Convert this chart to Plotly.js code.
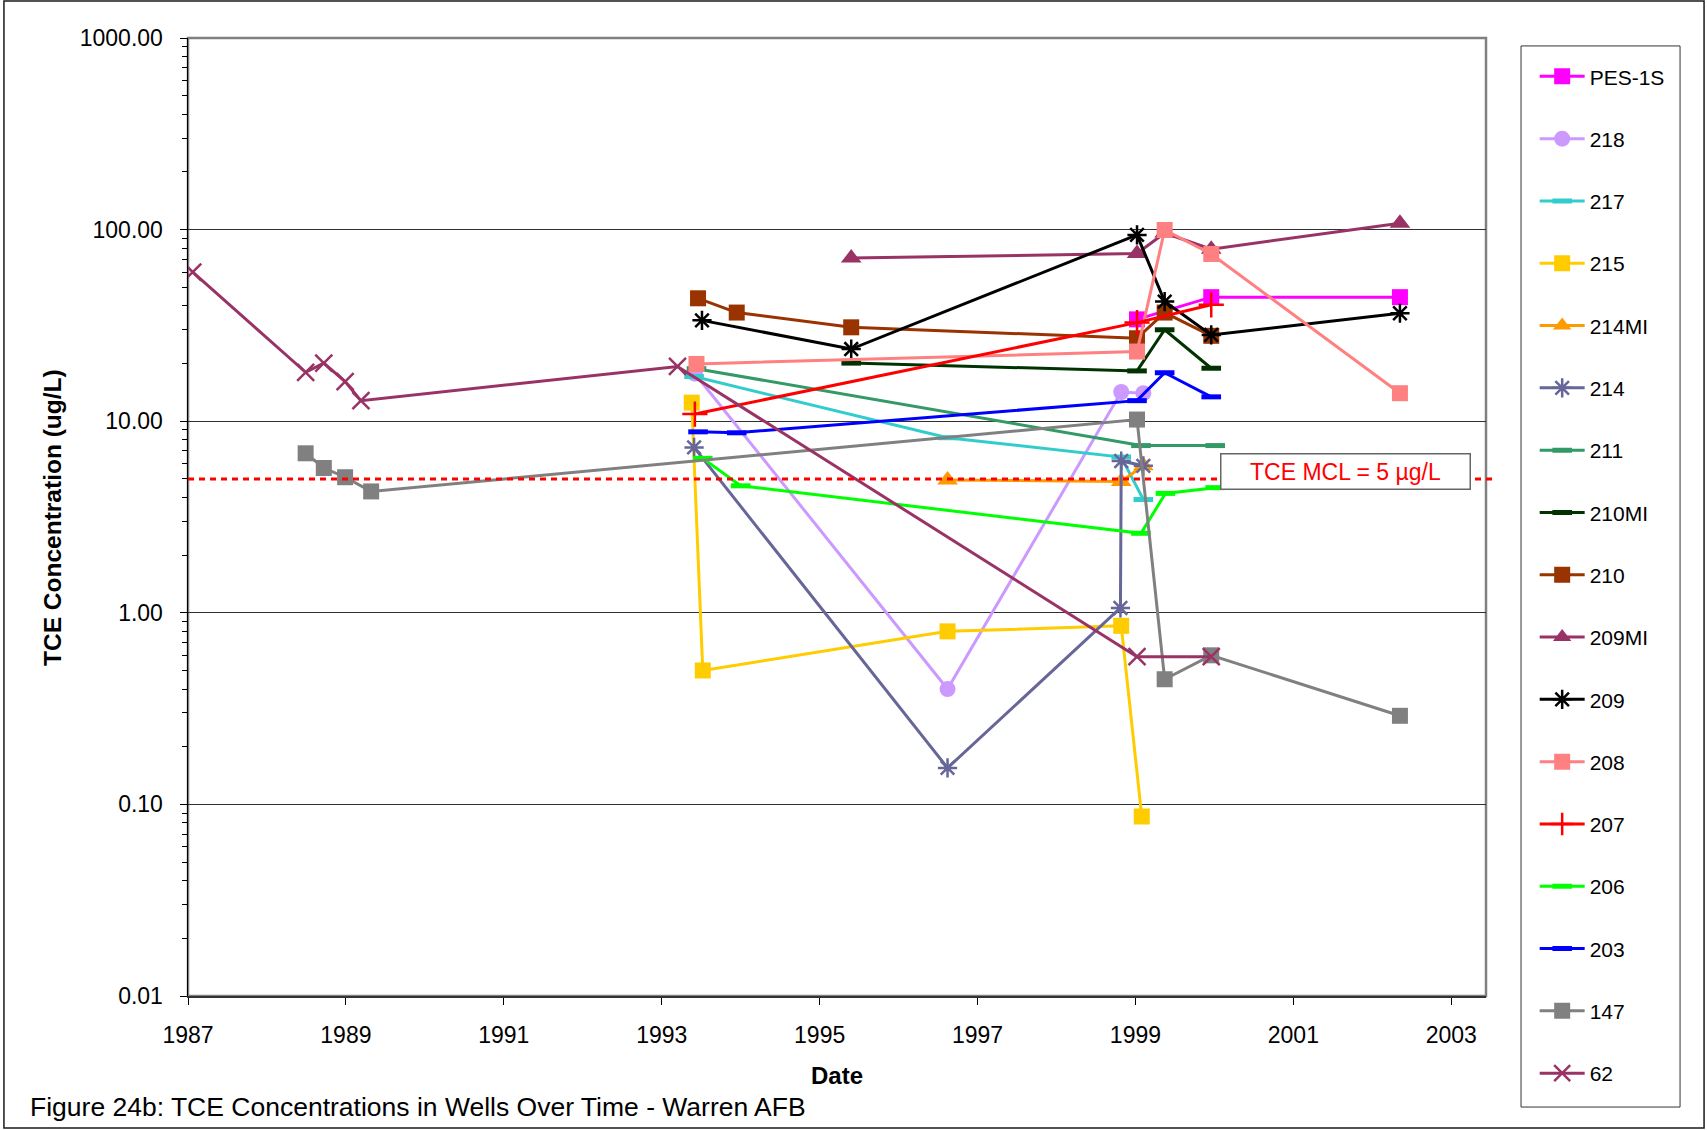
<!DOCTYPE html>
<html>
<head>
<meta charset="utf-8">
<script src="https://cdn.plot.ly/plotly-3.0.1.min.js"></script>
<style>
  html, body { margin: 0; padding: 0; background: #ffffff; }
  #chart { width: 1707px; height: 1130px; }
</style>
</head>
<body>
<div id="chart"></div>
<script>
// ---- Data (decimal years, TCE concentration in ug/L) ----
const seriesNames = ["PES-1S", "218", "217", "215", "214MI", "214", "211", "210MI", "210", "209MI", "209", "208", "207", "206", "203", "147", "62"];

const pes1sX = [1999.02, 1999.96, 2002.35];
const pes1sY = [34, 44.4, 44.4];

const w218X = [1993.42, 1996.62, 1998.82, 1999.10];
const w218Y = [17.7, 0.40, 14.2, 14.0];

const w217X = [1993.41, 1996.62, 1998.82, 1999.10];
const w217Y = [17.1, 8.2, 6.5, 3.9];

const w215X = [1993.38, 1993.52, 1996.62, 1998.82, 1999.08];
const w215Y = [12.5, 0.50, 0.80, 0.855, 0.0865];

const w214miX = [1996.62, 1998.82, 1999.10];
const w214miY = [4.94, 4.85, 5.85];

const w214X = [1993.41, 1996.62, 1998.81, 1998.82, 1999.10];
const w214Y = [7.3, 0.155, 1.06, 6.2, 5.85];

const w211X = [1993.44, 1999.07, 2000.01];
const w211Y = [18.8, 7.46, 7.46];

const w210miX = [1995.40, 1999.02, 1999.37, 1999.96];
const w210miY = [20.1, 18.3, 30.0, 18.9];

const w210X = [1993.46, 1993.95, 1995.40, 1999.02, 1999.37, 1999.96];
const w210Y = [43.8, 36.9, 30.9, 27.1, 36.9, 27.9];

const w209miX = [1995.40, 1999.02, 1999.37, 1999.96, 2002.35];
const w209miY = [71, 75, 96, 79, 108];

const w209X = [1993.51, 1995.40, 1999.02, 1999.37, 1999.96, 2002.35];
const w209Y = [33.6, 23.8, 93.8, 42.1, 28.2, 36.6];

const w208X = [1993.44, 1999.02, 1999.37, 1999.96, 2002.35];
const w208Y = [19.9, 23.1, 99.5, 74.6, 14.0];

const w207X = [1993.42, 1999.02, 1999.96];
const w207Y = [10.9, 32.7, 40.5];

const w206X = [1993.52, 1994.00, 1999.07, 1999.38, 2000.01];
const w206Y = [6.4, 4.6, 2.6, 4.2, 4.5];

const w203X = [1993.46, 1993.95, 1999.02, 1999.37, 1999.96];
const w203Y = [8.8, 8.7, 12.8, 17.9, 13.4];

const w147X = [1988.49, 1988.72, 1988.99, 1989.32, 1999.02, 1999.37, 1999.96, 2002.35];
const w147Y = [6.8, 5.7, 5.1, 4.3, 10.2, 0.45, 0.60, 0.29];

const w62X = [1987.06, 1988.49, 1988.72, 1988.99, 1989.19, 1993.20, 1999.02, 1999.96];
const w62Y = [60, 18, 20.1, 16.1, 12.8, 19.3, 0.59, 0.59];

const mclValue = 5;
const mclLabel = "TCE MCL = 5 µg/L";
const yTickVals = [0.01, 0.1, 1, 10, 100, 1000];
const yTickText = ["0.01", "0.10", "1.00", "10.00", "100.00", "1000.00"];
const xTickVals = [1987, 1989, 1991, 1993, 1995, 1997, 1999, 2001, 2003];
const xMinorTickVals = [1987, 1988, 1989, 1990, 1991, 1992, 1993, 1994, 1995, 1996, 1997, 1998, 1999, 2000, 2001, 2002, 2003];

// ---- Styles ----
const xs = [pes1sX, w218X, w217X, w215X, w214miX, w214X, w211X, w210miX, w210X, w209miX, w209X, w208X, w207X, w206X, w203X, w147X, w62X];
const ys = [pes1sY, w218Y, w217Y, w215Y, w214miY, w214Y, w211Y, w210miY, w210Y, w209miY, w209Y, w208Y, w207Y, w206Y, w203Y, w147Y, w62Y];
const colors = ["#FF00FF", "#CC99FF", "#33CCCC", "#FFCC00", "#FF9900", "#666699", "#339966", "#003300", "#993300", "#993366", "#000000", "#FF8080", "#FF0000", "#00FF00", "#0000FF", "#808080", "#993366"];
const symbols = ["square", "circle", "line-ew", "square", "triangle-up", "asterisk-open", "line-ew", "line-ew", "square", "triangle-up", "asterisk-open", "square", "cross-thin-open", "line-ew", "line-ew", "square", "x-thin-open"];

function markerFor(i) {
  const s = symbols[i];
  const c = colors[i];
  if (s === "line-ew") return { symbol: s, size: 14, color: c, line: { color: c, width: 5 } };
  if (s === "asterisk-open") return { symbol: s, size: 16, color: c, line: { color: c, width: 2.5 } };
  if (s === "cross-thin-open") return { symbol: s, size: 18, color: c, line: { color: c, width: 2.5 } };
  if (s === "x-thin-open") return { symbol: s, size: 17, color: c, line: { color: c, width: 2.5 } };
  if (s === "triangle-up") return { symbol: s, size: 18, color: c, line: { width: 0 } };
  if (s === "circle") return { symbol: s, size: 16, color: c, line: { width: 0 } };
  return { symbol: s, size: 16, color: c, line: { width: 0 } };
}

const traces = seriesNames.map((name, i) => ({
  type: "scatter",
  mode: "lines+markers",
  name: name,
  legendgroup: "g" + i,
  x: xs[i],
  y: ys[i],
  line: { color: colors[i], width: 3 },
  marker: markerFor(i),
  cliponaxis: true
}));

const FONT = "Liberation Sans, Arial, sans-serif";

const layout = {
  width: 1707,
  height: 1130,
  margin: { l: 188, r: 221, t: 38, b: 134, pad: 0 },
  paper_bgcolor: "#ffffff",
  plot_bgcolor: "#ffffff",
  font: { family: FONT, color: "#000000", size: 23 },
  showlegend: true,
  legend: {
    x: 1.0375, xanchor: "left",
    y: 0.981, yanchor: "top",
    bgcolor: "rgba(0,0,0,0)",
    borderwidth: 0,
    font: { family: FONT, size: 21, color: "#000000" },
    traceorder: "grouped",
    tracegroupgap: 32,
    itemwidth: 45,
    maxheight: 1100
  },
  xaxis: {
    type: "linear",
    range: [1987, 2003.44],
    tickmode: "array",
    tickvals: xTickVals,
    ticktext: xTickVals.map(String),
    ticks: "outside",
    ticklen: 7,
    tickwidth: 1,
    tickcolor: "#000000",
    showgrid: false,
    zeroline: false,
    showline: true,
    linecolor: "#333333",
    linewidth: 2,
    tickfont: { family: FONT, size: 23, color: "#000000" },
    ticklabelstandoff: 10,
    fixedrange: true
  },
  xaxis2: {
    overlaying: "x",
    anchor: "y",
    side: "bottom",
    range: [1987, 2003.44],
    tickmode: "array",
    tickvals: xMinorTickVals,
    ticks: "inside",
    ticklen: 7,
    tickwidth: 1,
    tickcolor: "#000000",
    showticklabels: false,
    showgrid: false,
    zeroline: false,
    showline: false
  },
  yaxis: {
    type: "log",
    range: [-2, 3],
    tickmode: "array",
    tickvals: yTickVals,
    ticktext: yTickText,
    ticks: "outside",
    ticklen: 7,
    tickwidth: 1,
    tickcolor: "#000000",
    minor: { ticks: "outside", ticklen: 5, tickcolor: "#000000", dtick: "D1", showgrid: false },
    showgrid: true,
    gridcolor: "#303030",
    gridwidth: 1,
    zeroline: false,
    showline: true,
    linecolor: "#000000",
    linewidth: 1.5,
    tickfont: { family: FONT, size: 23, color: "#000000" },
    ticklabelstandoff: 12,
    fixedrange: true
  },
  shapes: [
    // outer chart frame
    { type: "rect", xref: "paper", yref: "paper", x0: -0.1418, x1: 1.1680, y0: -0.1378, y1: 1.0386,
      line: { color: "#1a1a1a", width: 1.5 }, fillcolor: "rgba(0,0,0,0)", layer: "below" },
    // plot area frame
    { type: "rect", xref: "paper", yref: "paper", x0: 0, x1: 1, y0: 0, y1: 1,
      line: { color: "#808080", width: 2.5 }, fillcolor: "rgba(0,0,0,0)", layer: "below" },
    // legend box
    { type: "rect", xref: "paper", yref: "paper", x0: 1.0270, x1: 1.1495, y0: -0.1159, y1: 0.9917,
      line: { color: "#333333", width: 1 }, fillcolor: "rgba(0,0,0,0)", layer: "below" },
    // MCL line
    { type: "line", xref: "paper", yref: "y", x0: 0, x1: 1.0069, y0: mclValue, y1: mclValue,
      line: { color: "#FF0000", width: 3, dash: "6px,5px" }, layer: "above" }
  ],
  annotations: [
    { text: mclLabel, xref: "paper", yref: "paper", x: 0.8914, y: 0.547, xanchor: "center", yanchor: "middle",
      showarrow: false, font: { family: FONT, size: 23, color: "#FF0000" },
      bgcolor: "#ffffff", bordercolor: "#666666", borderwidth: 1.5, borderpad: 1, width: 246, height: 32 },
    { text: "<b>TCE Concentration (ug/L)</b>", xref: "paper", yref: "paper", x: -0.1048, y: 0.5,
      xanchor: "center", yanchor: "middle", textangle: -90, showarrow: false,
      font: { family: FONT, size: 24.5, color: "#000000" } },
    { text: "<b>Date</b>", xref: "paper", yref: "paper", x: 0.5, y: -0.0831,
      xanchor: "center", yanchor: "middle", showarrow: false,
      font: { family: FONT, size: 24, color: "#000000" } },
    { text: "Figure 24b: TCE Concentrations in Wells Over Time - Warren AFB", xref: "paper", yref: "paper",
      x: -0.1233, y: -0.1159, xanchor: "left", yanchor: "middle", showarrow: false,
      font: { family: FONT, size: 26.5, color: "#000000" } }
  ]
};

Plotly.newPlot("chart", traces, layout, { staticPlot: true, displayModeBar: false });
</script>
</body>
</html>
